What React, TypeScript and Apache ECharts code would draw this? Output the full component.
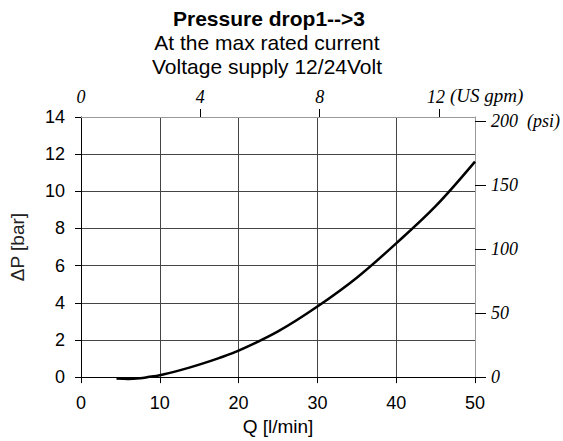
import React, { useEffect, useRef } from "react";
import * as echarts from "echarts";

// Flow (l/min) and pressure drop (bar)
const flowLpm = [4.5, 6, 7.5, 8.5, 10, 12.5, 15, 17.5, 20, 25, 30, 35, 40, 45, 50];
const dpBar = [-0.08, -0.1, -0.06, 0, 0.1, 0.36, 0.67, 1.02, 1.42, 2.46, 3.8, 5.35, 7.2, 9.2, 11.6];

const titleLines = ["Pressure drop1-->3", "At the max rated current", "Voltage supply 12/24Volt"];
const gpmTickValues = [4, 8, 12];
const gpmLabelValues = [0, 4, 8, 12];
const psiValues = [0, 50, 100, 150, 200];

const LPM_PER_GPM = 3.785411784;
const PSI_PER_BAR = 14.5038;
const Q_MAX = 50;
const DP_MAX = 14;

const SANS = "'Liberation Sans', Arial, sans-serif";
const SERIF = "'Liberation Serif', 'Times New Roman', serif";

export default function App() {
  const ref = useRef<HTMLDivElement>(null);

  useEffect(() => {
    if (!ref.current) return;
    const chart = echarts.init(ref.current, undefined, { renderer: "svg" });
    const data = flowLpm.map((q, i) => [q, dpBar[i]]);
    const serifLabel = { fontFamily: SERIF, fontStyle: "italic", fontSize: 18, color: "#000" };

    chart.setOption({
      animation: false,
      backgroundColor: "#ffffff",
      title: [
        {
          text: titleLines[0], left: 269, top: 8, textAlign: "center", padding: 0,
          textStyle: { fontFamily: SANS, fontSize: 21, fontWeight: "bold", color: "#000" },
        },
        {
          text: titleLines[1], left: 267, top: 32, textAlign: "center", padding: 0,
          textStyle: { fontFamily: SANS, fontSize: 21, fontWeight: "normal", color: "#000" },
        },
        {
          text: titleLines[2], left: 267, top: 56, textAlign: "center", padding: 0,
          textStyle: { fontFamily: SANS, fontSize: 21, fontWeight: "normal", color: "#000" },
        },
      ],
      grid: { left: 80, top: 117, width: 397, height: 268 },
      graphic: [
        {
          type: "text", left: 450, top: 86,
          style: { text: "(US gpm)", fontFamily: SERIF, fontStyle: "italic", fontSize: 19, fill: "#000" },
        },
      ],
      xAxis: [
        {
          type: "value", position: "bottom", min: 0, max: Q_MAX, interval: 10,
          axisLine: { onZero: false, lineStyle: { color: "#000", width: 1 } },
          axisTick: { inside: false, length: 6, lineStyle: { color: "#000" } },
          axisLabel: { margin: 17, fontFamily: SANS, fontSize: 18, color: "#000" },
          splitLine: { show: true, showMinLine: false, showMaxLine: false, lineStyle: { color: "#444", width: 1 } },
          name: "Q [l/min]", nameLocation: "middle", nameGap: 36,
          nameTextStyle: { fontFamily: SANS, fontSize: 19, color: "#000" },
        },
        {
          type: "value", position: "top", min: 0, max: Q_MAX / LPM_PER_GPM, interval: 4,
          axisLine: { onZero: false, lineStyle: { color: "#999", width: 1 } },
          axisTick: { inside: false, length: 8, lineStyle: { color: "#000" }, customValues: gpmTickValues },
          axisLabel: {
            customValues: gpmLabelValues, margin: 11, ...serifLabel,
            formatter: (v: number) => (v === 12 ? "{r|12}" : String(v)),
            rich: { r: { ...serifLabel, padding: [0, 6, 0, 0] } },
          },
          splitLine: { show: false },
        },
      ],
      yAxis: [
        {
          type: "value", position: "left", min: 0, max: DP_MAX, interval: 2,
          axisLine: { onZero: false, lineStyle: { color: "#000", width: 1 } },
          axisTick: { inside: false, length: 6, lineStyle: { color: "#000" } },
          axisLabel: { margin: 16, fontFamily: SANS, fontSize: 18, color: "#000" },
          splitLine: { show: true, showMinLine: false, showMaxLine: false, lineStyle: { color: "#444", width: 1 } },
          name: "\u0394P [bar]", nameLocation: "middle", nameGap: 54, nameRotate: 90,
          nameTextStyle: { fontFamily: SANS, fontSize: 19, color: "#222" },
        },
        {
          type: "value", position: "right", min: 0, max: DP_MAX * PSI_PER_BAR, interval: 50,
          axisLine: { onZero: false, lineStyle: { color: "#999", width: 1 } },
          axisTick: { inside: false, length: 11, lineStyle: { color: "#000" }, customValues: psiValues },
          axisLabel: {
            customValues: psiValues, margin: 16, ...serifLabel,
            formatter: (v: number) => (v === 200 ? "200  (psi)" : String(v)),
          },
          splitLine: { show: false },
        },
      ],
      series: [
        {
          type: "line", xAxisIndex: 0, yAxisIndex: 0, data, smooth: 0.35, showSymbol: false,
          clip: false, lineStyle: { color: "#000", width: 2.5 },
        },
      ],
    });

    return () => chart.dispose();
  }, []);

  return (
    <div
      ref={ref}
      style={{ position: "absolute", left: 0, top: 0, width: 563, height: 441, background: "#fff" }}
    />
  );
}
